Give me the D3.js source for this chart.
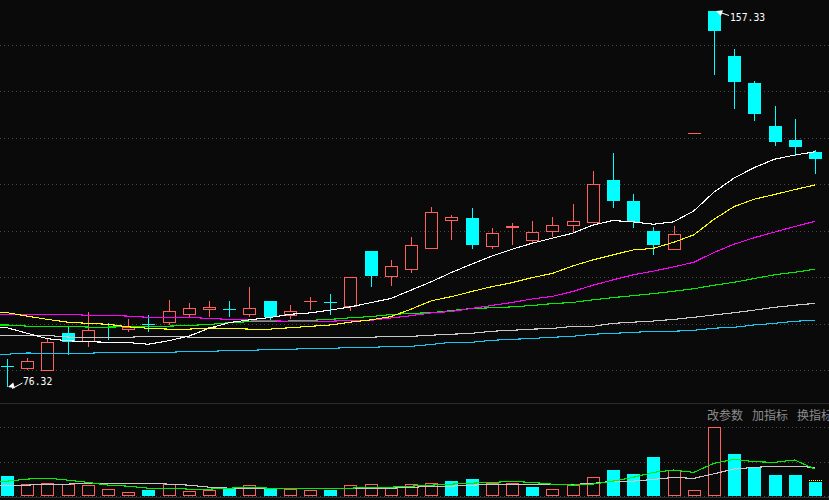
<!DOCTYPE html>
<html><head><meta charset="utf-8">
<script src="https://cdn.jsdelivr.net/npm/d3@7/dist/d3.min.js"></script>
<style>html,body{margin:0;padding:0;background:#0a0a0a;overflow:hidden}</style>
</head><body>
<svg id="c" width="829" height="500"></svg>
<script>
// ---------- data ----------
const days = d3.range(41);
const open  = [80.82,80.15,79.85,87.97,85.97,89.82,88.6,89.92,90.2,91.9,93.0,93.12,91.9,94.9,91.7,94.88,94.62,93.6,105.6,100.0,101.6,106.0,112.0,112.7,106.55,110.5,107.85,109.65,110.95,111.7,120.9,116.4,110.0,105.9,131.04,157.33,147.6,141.8,132.55,129.5,126.95];
const high  = [82.4,82.6,86.83,89.5,92.5,90.1,91.0,91.85,95.1,94.4,94.9,94.9,97.9,94.9,94.0,95.7,96.4,100.0,105.6,103.6,108.65,115.1,113.4,114.9,110.6,111.7,112.1,112.95,115.75,122.85,126.7,117.9,110.8,111.0,131.04,157.33,149.1,142.2,136.9,134.05,127.3];
const low   = [76.32,80.0,79.8,83.3,85.0,86.5,88.2,88.25,89.7,91.5,91.5,91.5,91.5,90.8,91.0,92.9,91.85,92.7,97.8,98.2,101.0,106.0,108.1,106.1,106.1,107.0,107.4,108.7,109.7,111.7,115.0,110.65,104.8,105.9,131.04,143.6,136.3,133.7,128.3,126.2,122.3];
const close = [80.80,81.94,85.97,86.10,88.55,89.80,89.2,89.90,92.7,93.3,93.6,93.10,93.3,91.5,92.65,94.9,94.60,100.0,100.3,102.3,106.9,114.0,112.9,107.0,109.45,110.95,109.7,111.2,112.1,120.0,116.4,111.8,107.0,109.2,131.04,153.1,142.1,135.2,129.2,128.1,125.5];

const volume = [57,33,36,33,31,21,12,16,33,15,17,20,30,20,21,18,16,30,33,24,33,36,43,49,37,37,25,21,30,54,75,63,113,74,18,200,122,83,60,60,40];
const volUp  = [0,1,1,1,1,1,1,0,1,1,1,0,1,0,1,1,0,1,1,1,1,1,0,0,1,1,0,1,1,1,0,0,0,1,1,1,0,0,0,0,0];
const volEstimate = 45;

const ma5   = [89.1,87.9,86.75,86.3,86.1,85.97,85.9,85.55,86.3,87.3,88.98,90.2,90.8,91.3,92.0,92.3,92.9,93.6,94.5,95.4,97.2,99.0,101.0,102.8,104.55,106.0,107.3,108.4,109.45,111.2,112.2,111.9,111.4,111.9,114.25,118.3,121.35,123.6,125.4,126.3,127.0];
const ma10  = [92.35,91.6,90.9,90.3,90.05,89.85,89.3,88.98,88.8,88.8,89.05,89.0,88.8,88.8,89.1,89.4,89.7,90.3,90.8,91.5,93.1,94.9,95.8,96.9,97.95,98.8,99.9,100.8,102.4,103.7,104.8,105.85,106.2,107.5,109.1,112.45,115.2,116.8,117.8,118.85,119.85];
const ma20  = [92.0,92.0,92.0,91.95,91.8,91.8,91.6,91.35,91.35,91.35,91.1,90.9,90.8,90.6,90.5,90.5,90.5,90.7,90.7,91.2,91.7,92.3,92.6,93.25,93.9,94.55,95.3,95.85,96.9,98.25,99.4,100.5,101.3,102.2,103.2,105.3,107.1,108.5,109.7,110.9,112.0];
const ma30  = [89.7,89.45,89.45,89.4,89.25,89.25,89.3,89.45,89.45,89.6,89.8,90.2,90.4,90.4,90.55,90.7,90.9,91.25,91.5,91.95,92.2,92.35,92.8,93.25,93.4,93.6,93.9,94.3,94.55,95.1,95.6,96.0,96.45,96.95,97.5,98.25,98.9,99.7,100.5,101.05,101.7];
const ma60  = [87.5,87.5,87.45,87.1,87.05,87.05,87.05,87.25,87.25,87.1,87.05,87.05,87.05,87.05,87.05,87.05,87.05,87.05,87.05,87.25,87.25,87.5,87.7,87.9,88.35,88.55,88.8,88.95,89.4,89.4,90.05,90.3,90.55,90.9,91.35,91.85,92.35,92.9,93.5,93.95,94.35];
const ma120 = [83.4,83.66,83.6,83.6,83.6,83.8,83.8,83.8,83.8,84.0,84.0,84.2,84.2,84.45,84.45,84.65,84.65,84.85,84.85,85.1,85.1,85.5,85.97,85.97,86.4,86.6,86.8,87.05,87.25,87.7,87.9,88.1,88.35,88.35,88.55,89.0,89.2,89.7,90.05,90.5,90.7];

const vma5  = [42.6,48.5,51.5,45.6,38.8,30.9,27.9,22,22,19.1,19.1,22,25,22,22,22,22,22,25,25,27.9,30.9,33.8,36.75,38.8,41.7,38.8,33.8,30.9,33.8,42.6,53.5,68.2,75,68.2,94.7,106.4,99.4,97.6,104.4,77.9];
const vma10 = [30.9,30.9,33.8,33.8,36.75,36.75,36.75,36.75,33.8,30.9,25,22,22,22,22,22,22,22,22,22,24,27.9,27.9,30.9,32.9,32.9,32.9,32.9,32.9,35.9,42.6,42.6,47.6,53.5,50.6,64.1,77.9,82.9,85.8,85.8,82.9];

const priceTicks = [80,90,100,110,120,130,140,150];
const volTicks = [0,100,200];
const menuItems = ["改参数","加指标","换指标"];

// ---------- drawing ----------
const W = 829, H = 500;
const RED = "#ff5f5f", CYAN = "#00ffff", BG = "#0a0a0a";
const svg = d3.select("#c");
svg.append("rect").attr("width",W).attr("height",H).attr("fill",BG);

const x = d3.scaleBand().domain(days).range([-3,825]).paddingInner(0.35).paddingOuter(0.175);
const cx = i => x(i) + x.bandwidth()/2;
const y = d3.scaleLinear().domain([80,150]).range([370,45]);
const yv = d3.scaleLinear().domain([0,200]).range([495.7,427.3]);
const px = v => Math.round(v) + 0.5;

// grid
const grid = svg.append("g").attr("stroke","#4a4a4a").attr("stroke-dasharray","1 3").attr("stroke-width",1);
priceTicks.forEach(t => grid.append("line").attr("x1",0).attr("x2",W).attr("y1",px(y(t))).attr("y2",px(y(t))));
volTicks.forEach(t => grid.append("line").attr("x1",0).attr("x2",W).attr("y1",px(yv(t))).attr("y2",px(yv(t))));
// panel separators
svg.append("line").attr("x1",0).attr("x2",W).attr("y1",403.5).attr("y2",403.5).attr("stroke","#2c2c2c");
svg.append("line").attr("x1",0).attr("x2",W).attr("y1",497.5).attr("y2",497.5).attr("stroke","#2c2c2c");

// candles
const half = 6;
const cg = svg.append("g");
days.forEach(i => {
  const c = px(cx(i));
  const up = close[i] >= open[i];
  const col = up ? RED : CYAN;
  const yo = Math.round(y(open[i])), yc = Math.round(y(close[i]));
  const yh = Math.round(y(high[i])), yl = Math.round(y(low[i]));
  const top = Math.min(yo,yc), bot = Math.max(yo,yc);
  const xl = Math.round(cx(i)) - half;
  if (bot - top < 1) {
    cg.append("line").attr("x1",xl).attr("x2",xl+13).attr("y1",top+0.5).attr("y2",top+0.5).attr("stroke",col);
    if (yh < top) cg.append("line").attr("x1",c).attr("x2",c).attr("y1",yh).attr("y2",top).attr("stroke",col);
    if (yl > top+1) cg.append("line").attr("x1",c).attr("x2",c).attr("y1",top+1).attr("y2",yl).attr("stroke",col);
    return;
  }
  if (yh < top) cg.append("line").attr("x1",c).attr("x2",c).attr("y1",yh).attr("y2",top).attr("stroke",col);
  if (yl > bot) cg.append("line").attr("x1",c).attr("x2",c).attr("y1",bot).attr("y2",yl).attr("stroke",col);
  if (up) {
    cg.append("rect").attr("x",xl+0.5).attr("y",top+0.5).attr("width",12).attr("height",bot-top-1)
      .attr("fill","none").attr("stroke",RED);
  } else {
    cg.append("rect").attr("x",xl).attr("y",top).attr("width",13).attr("height",bot-top).attr("fill",CYAN);
  }
});

// moving averages (price) - lines continue to the left edge of the plot
const maDefs = [[ma120,"#19c8ee"],[ma60,"#c8c8c8"],[ma30,"#00ee00"],[ma20,"#ff00ff"],[ma10,"#ffff00"],[ma5,"#ffffff"]];
function pathFor(arr, ys){
  const pts = arr.map((d,i)=>[cx(i), ys(d)]);
  pts.unshift([0, ys(arr[0])]);
  return d3.line()(pts);
}
maDefs.forEach(([arr,col]) => svg.append("path").attr("d",pathFor(arr,y)).attr("fill","none")
  .attr("stroke",col).attr("stroke-width",1.1).attr("shape-rendering","crispEdges"));

// high / low markers
const iHi = d3.maxIndex(high), iLo = d3.minIndex(low);
const mk = svg.append("g");
function marker(ix, iy, tx, ty, label, anchorX, anchorY){
  mk.append("line").attr("x1",tx).attr("y1",ty).attr("x2",ix+4).attr("y2",iy+1.5).attr("stroke","#fff");
  const ang = Math.atan2(ty-iy, tx-ix);
  const p1 = [ix + 7*Math.cos(ang-0.45), iy + 7*Math.sin(ang-0.45)];
  const p2 = [ix + 7*Math.cos(ang+0.45), iy + 7*Math.sin(ang+0.45)];
  mk.append("path").attr("d",`M${ix},${iy}L${p1}L${p2}Z`).attr("fill","#fff");
  mk.append("text").attr("x",anchorX).attr("y",anchorY).text(label)
    .attr("fill","#fff").attr("font-family","DejaVu Sans Mono, monospace").attr("font-size",11)
    .attr("textLength",label.length*5.85).attr("lengthAdjust","spacingAndGlyphs");
}
marker(Math.round(cx(iHi))+2, y(high[iHi]), 729, 15.5, high[iHi].toFixed(2), 730, 21);
marker(Math.round(cx(iLo))+1, y(low[iLo]), 22.5, 383, low[iLo].toFixed(2), 23, 384.5);

// volume bars
const vg = svg.append("g");
days.forEach(i => {
  const xl = Math.round(cx(i)) - half;
  const t = Math.round(yv(volume[i])), b = 496;
  if (volUp[i]) {
    vg.append("rect").attr("x",xl+0.5).attr("y",t+0.5).attr("width",12).attr("height",b-t-1)
      .attr("fill","none").attr("stroke",RED);
  } else {
    vg.append("rect").attr("x",xl).attr("y",t).attr("width",13).attr("height",b-t).attr("fill",CYAN);
  }
});
// current volume estimate marker on last bar
{
  const i = days.length-1, xl = Math.round(cx(i)) - half;
  vg.append("line").attr("x1",xl).attr("x2",xl+13).attr("y1",px(yv(volEstimate))).attr("y2",px(yv(volEstimate)))
    .attr("stroke","#ffff00").attr("stroke-dasharray","1 1");
}
[[vma10,"#c8c8c8"],[vma5,"#00ee00"]].forEach(([arr,col]) => svg.append("path").attr("d",pathFor(arr,yv))
  .attr("fill","none").attr("stroke",col).attr("stroke-width",1.1).attr("shape-rendering","crispEdges"));

// menu texts (the last one runs off the right edge, as in the original)
const menuX = [707, 752, 797];
menuItems.forEach((t,k) => svg.append("text").attr("x",menuX[k]).attr("y",420).text(t)
  .attr("fill","#8c8c8c").attr("font-size",12).attr("font-family","Noto Sans CJK SC, sans-serif"));
</script>
</body></html>
